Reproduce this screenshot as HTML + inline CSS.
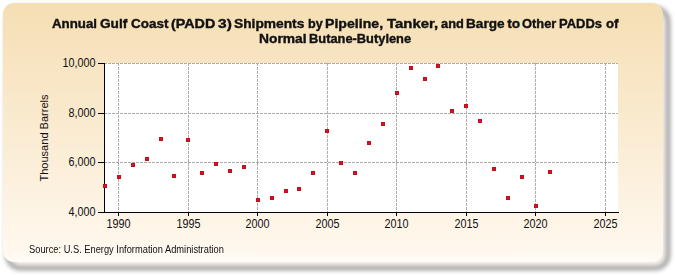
<!DOCTYPE html>
<html><head><meta charset="utf-8"><style>
html,body{margin:0;padding:0;width:675px;height:275px;overflow:hidden;background:#fff;}
#wrap{position:absolute;left:0;top:0;width:675px;height:275px;}
#panel{position:absolute;left:2.5px;top:3px;width:660.5px;height:259px;border-radius:11px;filter:blur(0.5px);
 background:linear-gradient(180deg,#f5deb3 0%,#fff8ee 96%,#fffcf7 100%);
}
svg{position:absolute;left:0;top:0;}
.w{position:absolute;font:bold 13.5px "Liberation Sans",sans-serif;color:#111;white-space:nowrap;transform-origin:0 0;-webkit-text-stroke:0.4px #111;}
.ax{font:12px "Liberation Sans",sans-serif;fill:#111;}
#src{position:absolute;left:29px;top:244.3px;font:10px "Liberation Sans",sans-serif;color:#111;white-space:nowrap;transform:scaleX(0.93);transform-origin:0 0;}
#ylab{position:absolute;left:44px;top:138px;font:11.5px "Liberation Sans",sans-serif;color:#111;white-space:nowrap;transform:translate(-50%,-50%) rotate(-90deg) scaleX(0.96);}
</style></head><body><div id="wrap">
<svg width="675" height="275" style="position:absolute;left:0;top:0"><defs><filter id="bl" x="-5%" y="-5%" width="110%" height="110%"><feGaussianBlur stdDeviation="2"/></filter></defs>
<rect x="7.5" y="8.5" width="660.5" height="259.5" rx="13" ry="13" fill="#f4f0eb" stroke="#a6a6a6" stroke-width="5" filter="url(#bl)"/></svg>
<div id="panel"></div>
<div class="w" style="left:51.59px;top:15.9px;transform:scaleX(0.985)">Annual</div>
<div class="w" style="left:100.4px;top:15.9px;transform:scaleX(1.0115)">Gulf</div>
<div class="w" style="left:131.3px;top:15.9px;transform:scaleX(0.9972)">Coast</div>
<div class="w" style="left:171.0px;top:15.9px;transform:scaleX(1.06)">(PADD</div>
<div class="w" style="left:217.5px;top:15.9px;transform:scaleX(1.15)">3)</div>
<div class="w" style="left:234.18px;top:15.9px;transform:scaleX(1.0194)">Shipments</div>
<div class="w" style="left:307.57px;top:15.9px;transform:scaleX(0.9333)">by</div>
<div class="w" style="left:325.45px;top:15.9px;transform:scaleX(1.0463)">Pipeline,</div>
<div class="w" style="left:386.8px;top:15.9px;transform:scaleX(1.1044)">Tanker,</div>
<div class="w" style="left:440.8px;top:15.9px;transform:scaleX(0.95)">and</div>
<div class="w" style="left:466.19px;top:15.9px;transform:scaleX(1.0081)">Barge</div>
<div class="w" style="left:507.3px;top:15.9px;transform:scaleX(1.0)">to</div>
<div class="w" style="left:522.45px;top:15.9px;transform:scaleX(0.9543)">Other</div>
<div class="w" style="left:559.03px;top:15.9px;transform:scaleX(0.96)">PADDs</div>
<div class="w" style="left:606.0px;top:15.9px;transform:scaleX(0.9833)">of</div>
<div class="w" style="left:259.08px;top:30.6px;transform:scaleX(1.0222)">Normal</div>
<div class="w" style="left:308.85px;top:30.6px;transform:scaleX(0.9519)">Butane-Butylene</div>

<svg width="675" height="275" viewBox="0 0 675 275">
<rect x="104" y="63" width="514" height="149" fill="#ffffff"/>
<line x1="118.5" y1="63" x2="118.5" y2="212" stroke="#acacac" stroke-width="1" stroke-dasharray="3,1"/>
<line x1="188.5" y1="63" x2="188.5" y2="212" stroke="#acacac" stroke-width="1" stroke-dasharray="3,1"/>
<line x1="257.5" y1="63" x2="257.5" y2="212" stroke="#acacac" stroke-width="1" stroke-dasharray="3,1"/>
<line x1="327.5" y1="63" x2="327.5" y2="212" stroke="#acacac" stroke-width="1" stroke-dasharray="3,1"/>
<line x1="396.5" y1="63" x2="396.5" y2="212" stroke="#acacac" stroke-width="1" stroke-dasharray="3,1"/>
<line x1="466.5" y1="63" x2="466.5" y2="212" stroke="#acacac" stroke-width="1" stroke-dasharray="3,1"/>
<line x1="535.5" y1="63" x2="535.5" y2="212" stroke="#acacac" stroke-width="1" stroke-dasharray="3,1"/>
<line x1="605.5" y1="63" x2="605.5" y2="212" stroke="#acacac" stroke-width="1" stroke-dasharray="3,1"/>
<line x1="104" y1="63.5" x2="618" y2="63.5" stroke="#acacac" stroke-width="1" stroke-dasharray="3,1"/>
<line x1="104" y1="113.5" x2="618" y2="113.5" stroke="#acacac" stroke-width="1" stroke-dasharray="3,1"/>
<line x1="104" y1="162.5" x2="618" y2="162.5" stroke="#acacac" stroke-width="1" stroke-dasharray="3,1"/>
<line x1="104.5" y1="63" x2="104.5" y2="213" stroke="#000" stroke-width="1"/>
<line x1="98" y1="212.5" x2="619" y2="212.5" stroke="#000" stroke-width="1"/>
<line x1="98" y1="63.5" x2="104" y2="63.5" stroke="#000" stroke-width="1"/>
<line x1="98" y1="113.5" x2="104" y2="113.5" stroke="#000" stroke-width="1"/>
<line x1="98" y1="162.5" x2="104" y2="162.5" stroke="#000" stroke-width="1"/>
<line x1="98" y1="212.5" x2="104" y2="212.5" stroke="#000" stroke-width="1"/>
<line x1="118.5" y1="213" x2="118.5" y2="216" stroke="#000" stroke-width="1"/>
<line x1="188.5" y1="213" x2="188.5" y2="216" stroke="#000" stroke-width="1"/>
<line x1="257.5" y1="213" x2="257.5" y2="216" stroke="#000" stroke-width="1"/>
<line x1="327.5" y1="213" x2="327.5" y2="216" stroke="#000" stroke-width="1"/>
<line x1="396.5" y1="213" x2="396.5" y2="216" stroke="#000" stroke-width="1"/>
<line x1="466.5" y1="213" x2="466.5" y2="216" stroke="#000" stroke-width="1"/>
<line x1="535.5" y1="213" x2="535.5" y2="216" stroke="#000" stroke-width="1"/>
<line x1="605.5" y1="213" x2="605.5" y2="216" stroke="#000" stroke-width="1"/>
<rect x="103" y="184" width="4" height="4" fill="#c01020"/><rect x="104" y="185" width="2" height="2" fill="#ea0a1c"/>
<rect x="117" y="175" width="4" height="4" fill="#c01020"/><rect x="118" y="176" width="2" height="2" fill="#ea0a1c"/>
<rect x="131" y="163" width="4" height="4" fill="#c01020"/><rect x="132" y="164" width="2" height="2" fill="#ea0a1c"/>
<rect x="145" y="157" width="4" height="4" fill="#c01020"/><rect x="146" y="158" width="2" height="2" fill="#ea0a1c"/>
<rect x="159" y="137" width="4" height="4" fill="#c01020"/><rect x="160" y="138" width="2" height="2" fill="#ea0a1c"/>
<rect x="172" y="174" width="4" height="4" fill="#c01020"/><rect x="173" y="175" width="2" height="2" fill="#ea0a1c"/>
<rect x="186" y="138" width="4" height="4" fill="#c01020"/><rect x="187" y="139" width="2" height="2" fill="#ea0a1c"/>
<rect x="200" y="171" width="4" height="4" fill="#c01020"/><rect x="201" y="172" width="2" height="2" fill="#ea0a1c"/>
<rect x="214" y="162" width="4" height="4" fill="#c01020"/><rect x="215" y="163" width="2" height="2" fill="#ea0a1c"/>
<rect x="228" y="169" width="4" height="4" fill="#c01020"/><rect x="229" y="170" width="2" height="2" fill="#ea0a1c"/>
<rect x="242" y="165" width="4" height="4" fill="#c01020"/><rect x="243" y="166" width="2" height="2" fill="#ea0a1c"/>
<rect x="256" y="198" width="4" height="4" fill="#c01020"/><rect x="257" y="199" width="2" height="2" fill="#ea0a1c"/>
<rect x="270" y="196" width="4" height="4" fill="#c01020"/><rect x="271" y="197" width="2" height="2" fill="#ea0a1c"/>
<rect x="284" y="189" width="4" height="4" fill="#c01020"/><rect x="285" y="190" width="2" height="2" fill="#ea0a1c"/>
<rect x="297" y="187" width="4" height="4" fill="#c01020"/><rect x="298" y="188" width="2" height="2" fill="#ea0a1c"/>
<rect x="311" y="171" width="4" height="4" fill="#c01020"/><rect x="312" y="172" width="2" height="2" fill="#ea0a1c"/>
<rect x="325" y="129" width="4" height="4" fill="#c01020"/><rect x="326" y="130" width="2" height="2" fill="#ea0a1c"/>
<rect x="339" y="161" width="4" height="4" fill="#c01020"/><rect x="340" y="162" width="2" height="2" fill="#ea0a1c"/>
<rect x="353" y="171" width="4" height="4" fill="#c01020"/><rect x="354" y="172" width="2" height="2" fill="#ea0a1c"/>
<rect x="367" y="141" width="4" height="4" fill="#c01020"/><rect x="368" y="142" width="2" height="2" fill="#ea0a1c"/>
<rect x="381" y="122" width="4" height="4" fill="#c01020"/><rect x="382" y="123" width="2" height="2" fill="#ea0a1c"/>
<rect x="395" y="91" width="4" height="4" fill="#c01020"/><rect x="396" y="92" width="2" height="2" fill="#ea0a1c"/>
<rect x="409" y="66" width="4" height="4" fill="#c01020"/><rect x="410" y="67" width="2" height="2" fill="#ea0a1c"/>
<rect x="423" y="77" width="4" height="4" fill="#c01020"/><rect x="424" y="78" width="2" height="2" fill="#ea0a1c"/>
<rect x="436" y="64" width="4" height="4" fill="#c01020"/><rect x="437" y="65" width="2" height="2" fill="#ea0a1c"/>
<rect x="450" y="109" width="4" height="4" fill="#c01020"/><rect x="451" y="110" width="2" height="2" fill="#ea0a1c"/>
<rect x="464" y="104" width="4" height="4" fill="#c01020"/><rect x="465" y="105" width="2" height="2" fill="#ea0a1c"/>
<rect x="478" y="119" width="4" height="4" fill="#c01020"/><rect x="479" y="120" width="2" height="2" fill="#ea0a1c"/>
<rect x="492" y="167" width="4" height="4" fill="#c01020"/><rect x="493" y="168" width="2" height="2" fill="#ea0a1c"/>
<rect x="506" y="196" width="4" height="4" fill="#c01020"/><rect x="507" y="197" width="2" height="2" fill="#ea0a1c"/>
<rect x="520" y="175" width="4" height="4" fill="#c01020"/><rect x="521" y="176" width="2" height="2" fill="#ea0a1c"/>
<rect x="534" y="204" width="4" height="4" fill="#c01020"/><rect x="535" y="205" width="2" height="2" fill="#ea0a1c"/>
<rect x="548" y="170" width="4" height="4" fill="#c01020"/><rect x="549" y="171" width="2" height="2" fill="#ea0a1c"/>
<text transform="translate(95.5,67) scale(0.9,1)" text-anchor="end" class="ax">10,000</text>
<text transform="translate(95.5,117) scale(0.9,1)" text-anchor="end" class="ax">8,000</text>
<text transform="translate(95.5,166) scale(0.9,1)" text-anchor="end" class="ax">6,000</text>
<text transform="translate(95.5,216) scale(0.9,1)" text-anchor="end" class="ax">4,000</text>
<text transform="translate(118.5,227.5) scale(0.9,1)" text-anchor="middle" class="ax">1990</text>
<text transform="translate(188.5,227.5) scale(0.9,1)" text-anchor="middle" class="ax">1995</text>
<text transform="translate(257.5,227.5) scale(0.9,1)" text-anchor="middle" class="ax">2000</text>
<text transform="translate(327.5,227.5) scale(0.9,1)" text-anchor="middle" class="ax">2005</text>
<text transform="translate(396.5,227.5) scale(0.9,1)" text-anchor="middle" class="ax">2010</text>
<text transform="translate(466.5,227.5) scale(0.9,1)" text-anchor="middle" class="ax">2015</text>
<text transform="translate(535.5,227.5) scale(0.9,1)" text-anchor="middle" class="ax">2020</text>
<text transform="translate(605.5,227.5) scale(0.9,1)" text-anchor="middle" class="ax">2025</text>
</svg>
<div id="ylab">Thousand Barrels</div>
<div id="src">Source: U.S. Energy Information Administration</div>
</div></body></html>
